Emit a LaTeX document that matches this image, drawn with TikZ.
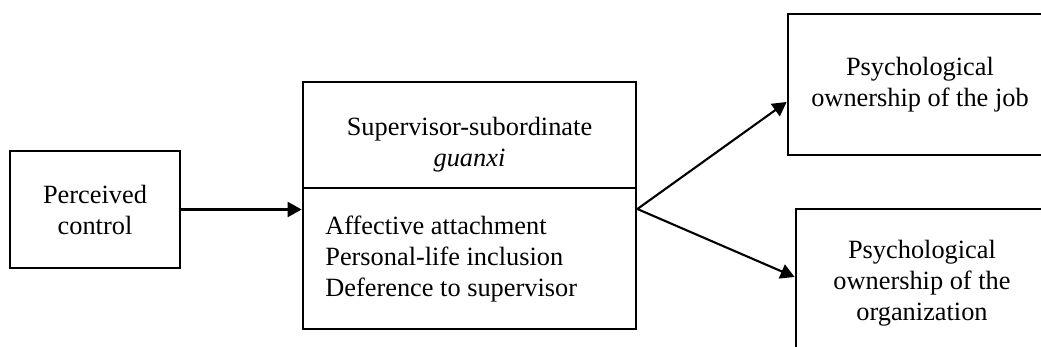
\documentclass[tikz,border=0pt]{standalone}
\usepackage{fontspec}
\setmainfont{Liberation Serif}
\usetikzlibrary{arrows.meta}
\tikzset{
	box/.style={draw, rectangle, line width=1.6pt, inner sep=0pt},
	txt/.style={align=center, inner sep=0pt, font=\fontsize{15}{17.6}\selectfont},
	link/.style={line width=1.2pt, -{Triangle[length=0.28cm, width=0.3cm]}}
}

\begin{document}
\begin{tikzpicture}[x=0.02cm, y=-0.02cm]
			%%%%% START %%%%%
			
			\clip (0, 0) rectangle (1041, 347);
			
			% perceived control
			\node[box, minimum width=3.4cm, minimum height=2.34cm] (pc) at (95, 209.5) {};
			\node[txt] (pclabel) at (95, 210) {Perceived\\control};
			
			% guanxi box, two parts
			\node[box, minimum width=6.66cm, minimum height=2.12cm] (sup) at (469.5, 135) {};
			\node[txt] (suplabel) at (469.5, 145) {Supervisor-subordinate\\\textit{guanxi}};
			\node[box, minimum width=6.66cm, minimum height=2.82cm] (dim) at (469.5, 258.5) {};
			\node[txt, align=left, anchor=west] (dimlabel) at (325, 259) {Affective attachment\\Personal-life inclusion\\Deference to supervisor};
			
			% outcomes
			\node[box, minimum width=5.84cm, minimum height=2.82cm] (job) at (934, 84.5) {};
			\node[txt] (joblabel) at (920, 85) {Psychological\\ownership of the job};
			\node[box, minimum width=5.68cm, minimum height=3.42cm] (org) at (938, 294.5) {};
			\node[txt] (orglabel) at (922, 283) {Psychological\\ownership of the\\organization};
			
			\coordinate (fork) at ([yshift=0.99cm]dim.east);
			
			\draw[link] (pc.east) -- (pc.east -| dim.west);
			\draw[link] (fork) -- ([yshift=-0.35cm]job.west);
			\draw[link] (fork) -- ([yshift=0.35cm]org.west);
			
			%%%%% END %%%%%
\end{tikzpicture}
\end{document}
